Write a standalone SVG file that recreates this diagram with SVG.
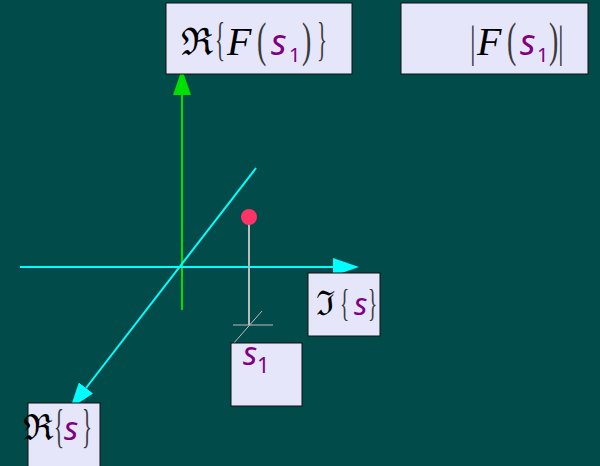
<svg xmlns="http://www.w3.org/2000/svg" width="600" height="466" viewBox="0 0 600 466">
<style>
.box{fill:#E6E6FA;stroke:#111;stroke-width:1}
.fr{font-family:"DejaVu Serif","Liberation Serif",serif;fill:#000}
.F{font-family:"Liberation Serif","DejaVu Serif",serif;font-style:italic;fill:#000}
.g{fill:#3a3a3a;font-family:"Liberation Serif","DejaVu Serif",serif}
.sub{fill:#800080;font-family:"Noto Sans","DejaVu Sans",sans-serif}
.ps{fill:#800080;font-family:"Noto Sans","DejaVu Sans",sans-serif;font-style:italic}
</style>
<defs>
<marker id="ag" markerWidth="26" markerHeight="18" refX="0" refY="9" orient="auto" markerUnits="userSpaceOnUse" viewBox="0 0 26 18"><path d="M0,0 L26,9 L0,18 Z" fill="#00E000"/></marker>
<marker id="ac" markerWidth="26" markerHeight="18" refX="0" refY="9" orient="auto" markerUnits="userSpaceOnUse" viewBox="0 0 26 18"><path d="M0,0 L26,9 L0,18 Z" fill="#00FFFF"/></marker>
</defs>
<rect width="600" height="466" fill="#024B4B"/>
<g id="connectors">
<line x1="182" y1="310" x2="182" y2="95" stroke="#00E000" stroke-width="2" marker-end="url(#ag)"/>
<line x1="20" y1="267" x2="333" y2="267" stroke="#00FFFF" stroke-width="2" marker-end="url(#ac)"/>
<line x1="256" y1="168" x2="86" y2="388" stroke="#00FFFF" stroke-width="2" marker-end="url(#ac)"/>
<line x1="249" y1="217" x2="249" y2="325" stroke="#BBBBBB" stroke-width="2"/>
<line x1="233" y1="325" x2="273" y2="325" stroke="#BBBBBB" stroke-width="1"/>
<line x1="262" y1="311" x2="233" y2="344" stroke="#BBBBBB" stroke-width="1"/>
</g>
<g id="point"><circle cx="249" cy="217" r="8" fill="#FF3366"/></g>
<g id="reF">
<rect class="box" x="166" y="3" width="186" height="71"/>
<text x="181" y="55" class="fr" font-size="38">ℜ</text>
<text transform="translate(215,55) scale(0.8,1.8)" class="g" font-size="26">{</text>
<text x="227" y="55" class="F" font-size="40">F</text>
<text transform="translate(257,56) scale(1,1.7)" class="g" font-size="28">(</text>
<text x="271" y="55" class="ps" font-size="36">s</text>
<text x="289" y="62" class="sub" font-size="20">1</text>
<text transform="translate(302,56) scale(1,1.7)" class="g" font-size="28">)</text>
<text transform="translate(317,55) scale(0.8,1.8)" class="g" font-size="26">}</text>
</g>
<g id="absF">
<rect class="box" x="401" y="3" width="187" height="71"/>
<text transform="translate(470,57) scale(1,1.6)" class="g" font-size="28">|</text>
<text x="477" y="55" class="F" font-size="40">F</text>
<text transform="translate(507,56) scale(1,1.7)" class="g" font-size="28">(</text>
<text x="520" y="55" class="ps" font-size="36">s</text>
<text x="537" y="62" class="sub" font-size="20">1</text>
<text transform="translate(549,56) scale(1,1.7)" class="g" font-size="28">)</text>
<text transform="translate(558,57) scale(1,1.6)" class="g" font-size="28">|</text>
</g>
<g id="imS">
<rect class="box" x="308" y="273" width="72" height="63"/>
<text x="316" y="315" class="fr" font-size="34">ℑ</text>
<text transform="translate(340,316) scale(0.8,1.6)" class="g" font-size="24">{</text>
<text x="354" y="315" class="ps" font-size="31">s</text>
<text transform="translate(368,316) scale(0.8,1.6)" class="g" font-size="24">}</text>
</g>
<g id="s1">
<rect class="box" x="231" y="343" width="71" height="63"/>
<text x="243" y="365" class="ps" font-size="33">s</text>
<text x="257" y="373" class="sub" font-size="22">1</text>
</g>
<g id="reS">
<rect class="box" x="28" y="403" width="72" height="70"/>
<text x="23" y="440" class="fr" font-size="36">ℜ</text>
<text transform="translate(54,442) scale(0.8,1.8)" class="g" font-size="26">{</text>
<text x="64" y="440" class="ps" font-size="33">s</text>
<text transform="translate(82,442) scale(0.8,1.8)" class="g" font-size="26">}</text>
</g>
</svg>
